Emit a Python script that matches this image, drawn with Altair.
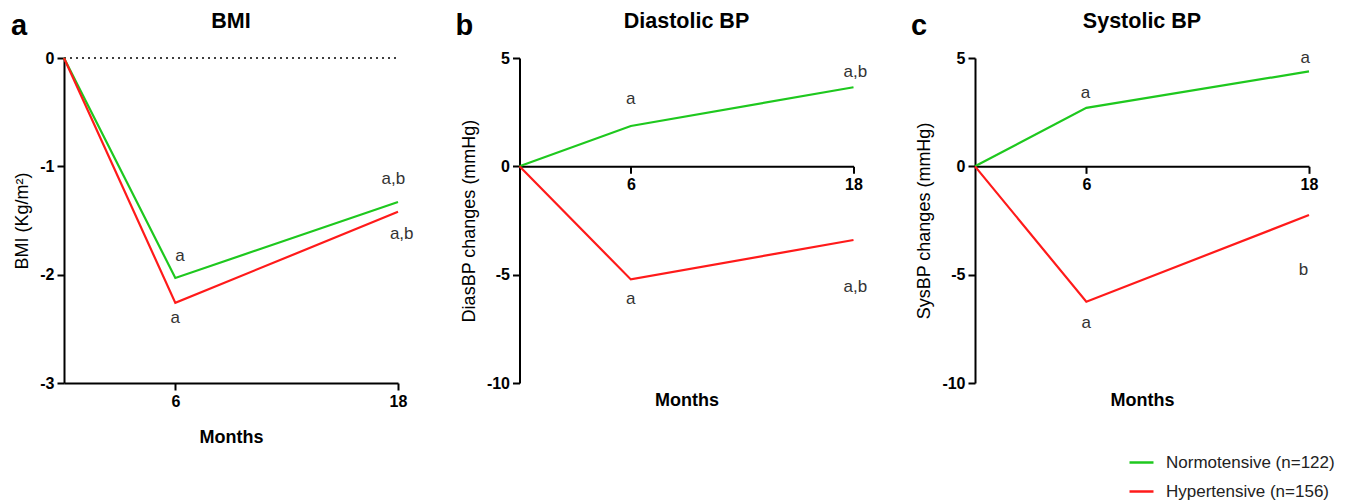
import altair as alt
import pandas as pd

FONT = "Liberation Sans"

months = [0, 6, 18]
groups = ["Normotensive (n=122)", "Hypertensive (n=156)"]
colors = ["#1EC81E", "#FF1A1A"]

bmi_normo = [0, -2.03, -1.33]
bmi_hyper = [0, -2.26, -1.42]
dbp_normo = [0, 1.86, 3.65]
dbp_hyper = [0, -5.22, -3.40]
sbp_normo = [0, 2.70, 4.38]
sbp_hyper = [0, -6.25, -2.25]

# significance letters (text, month, value)
bmi_sig_text = ["a", "a", "a,b", "a,b"]
bmi_sig_month = [6.25, 6.0, 17.75, 18.2]
bmi_sig_value = [-1.83, -2.40, -1.12, -1.62]
dbp_sig_text = ["a", "a", "a,b", "a,b"]
dbp_sig_month = [6.0, 6.0, 18.1, 18.1]
dbp_sig_value = [3.11, -6.12, 4.37, -5.56]
sbp_sig_text = ["a", "a", "a", "b"]
sbp_sig_month = [5.95, 6.0, 17.8, 17.7]
sbp_sig_value = [3.40, -7.22, 4.98, -4.79]

W, H = 334, 325


def panel(letter, letter_x, title, normo, hyper, sig_t, sig_m, sig_v, ydomain,
          yvals, ytitle, x_offset, x_title_y, dotted, show_legend):
    df = pd.DataFrame({
        "month": months * 2,
        "value": normo + hyper,
        "group": [groups[0]] * 3 + [groups[1]] * 3,
    })
    sig = pd.DataFrame({"month": sig_m, "value": sig_v, "text": sig_t})
    x = alt.X("month:Q",
              scale=alt.Scale(domain=[0, 18], nice=False, zero=True),
              axis=alt.Axis(values=[6, 18], title="Months", offset=x_offset,
                            titleY=x_title_y, titleBaseline="middle",
                            titleFontWeight="bold", titleFontSize=18,
                            labelFontSize=16, labelFontWeight="bold",
                            labelFont=FONT, labelPadding=3,
                            labelFlush=False, labelExpr="'' + datum.value"))
    y = alt.Y("value:Q",
              scale=alt.Scale(domain=ydomain, nice=False, zero=False),
              axis=alt.Axis(values=yvals, title=ytitle, titleFontWeight="normal",
                            titleFontSize=18, titlePadding=8,
                            labelFontSize=16, labelFontWeight="bold",
                            labelFont=FONT, labelPadding=3,
                            labelFlush=False, labelExpr="'' + datum.value"))
    if show_legend:
        legend = alt.Legend(orient="none", legendX=153, legendY=391, title=None,
                            symbolType="stroke", symbolStrokeWidth=2.5,
                            symbolSize=576, rowPadding=7, labelOffset=11,
                            labelLimit=400,
                            labelFont=FONT, labelFontSize=17, labelColor="#222")
    else:
        legend = None
    color = alt.Color("group:N", scale=alt.Scale(domain=groups, range=colors),
                      legend=legend)
    layers = []
    if dotted:
        rule_df = pd.DataFrame({"month": [0], "month2": [18], "value": [0]})
        layers.append(alt.Chart(rule_df).mark_rule(
            color="black", strokeWidth=1.5, strokeDash=[2, 4]).encode(
            x=x, x2="month2:Q", y=y))
    layers.append(alt.Chart(df).mark_line(strokeWidth=2.2).encode(
        x=x, y=y, color=color))
    layers.append(alt.Chart(sig).mark_text(
        font=FONT, fontSize=17, color="#333", baseline="middle").encode(
        x=x, y=y, text="text:N"))
    layers.append(alt.Chart(pd.DataFrame({"t": [letter]})).mark_text(
        font=FONT, fontSize=29, fontWeight="bold", color="black",
        align="left", baseline="alphabetic").encode(
        text="t:N", x=alt.value(letter_x), y=alt.value(-23)))
    layers.append(alt.Chart(pd.DataFrame({"t": [title]})).mark_text(
        font=FONT, fontSize=21.5, fontWeight="bold", color="black",
        align="center", baseline="alphabetic").encode(
        text="t:N", x=alt.value(W / 2), y=alt.value(-29.7)))
    return alt.layer(*layers).properties(width=W, height=H)


zero_b = H * 5 / 15
pa = panel("a", -53, "BMI", bmi_normo, bmi_hyper, bmi_sig_text, bmi_sig_month,
           bmi_sig_value, [-3, 0], [0, -1, -2, -3], "BMI (Kg/m²)", 0, 54,
           True, False)
pb = panel("b", -64, "Diastolic BP", dbp_normo, dbp_hyper, dbp_sig_text,
           dbp_sig_month, dbp_sig_value, [-10, 5], [5, 0, -5, -10],
           "DiasBP changes (mmHg)", -(H - zero_b), 400 - 58 - zero_b,
           False, False)
pc = panel("c", -64, "Systolic BP", sbp_normo, sbp_hyper, sbp_sig_text,
           sbp_sig_month, sbp_sig_value, [-10, 5], [5, 0, -5, -10],
           "SysBP changes (mmHg)", -(H - zero_b), 400 - 58 - zero_b,
           False, True)

chart = alt.hconcat(pa, pb, pc, spacing=121.5, bounds="flush").resolve_scale(
    color="independent").resolve_legend(color="independent").properties(
    padding={"left": 3, "top": 3, "right": 5, "bottom": 0}
).configure_view(stroke=None).configure_axis(
    grid=False, domainColor="black", domainWidth=2, tickColor="black",
    tickWidth=2, tickSize=7, labelColor="black",
    titleFont=FONT, titleColor="black")

chart.save("out.html", embed_options={"renderer": "svg", "actions": False})
